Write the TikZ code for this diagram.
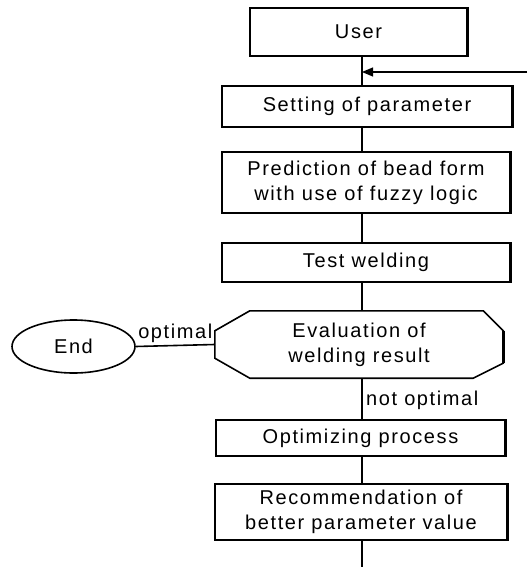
\documentclass[tikz,border=0pt]{standalone}
\usepackage{fontspec}
\setmainfont{Liberation Sans}[LetterSpace=8]
\usetikzlibrary{arrows.meta,shapes.geometric}

\tikzset{
  box/.style={draw, line width=1.6pt, align=center, inner sep=0pt},
  term/.style={ellipse, draw, line width=1.6pt, inner sep=0pt, minimum width=123pt, minimum height=53pt},
  flow/.style={line width=1.6pt},
}

\begin{document}
\begin{tikzpicture}[x=1pt,y=-1pt,font=\fontsize{20}{25}\selectfont]
\useasboundingbox (0,0) rectangle (527,567);
\coordinate (spine) at (362,0);
\coordinate (feed) at (527,72);
\coordinate (out) at (362,567);

\node[box, minimum width=217pt, minimum height=48pt] (user) at (358.5,32) {User};
\node[box, minimum width=290pt, minimum height=41pt] (setting) at (367,106.5) {Setting of parameter};
\node[box, minimum width=288pt, minimum height=61pt] (predict) at (366,182.5) {Prediction of bead form\\with use of fuzzy logic};
\node[box, minimum width=288pt, minimum height=39pt] (test) at (366,262.5) {Test welding};
\node[align=center, inner sep=0pt, minimum width=288pt, minimum height=67pt] (eval) at (359,344.5) {Evaluation of\\welding result};
\node[term] (end) at (73.5,346.5) {End};
\node[box, minimum width=289pt, minimum height=36pt] (opt) at (360.5,438) {Optimizing process};
\node[box, minimum width=292pt, minimum height=56pt] (rec) at (361,512) {Recommendation of\\better parameter value};

\draw[flow] ([xshift=35pt]eval.north west) -- ([xshift=-20pt]eval.north east)
  -- ([yshift=-20pt]eval.north east) -- ([yshift=15pt]eval.south east)
  -- ([xshift=-30pt]eval.south east) -- ([xshift=35pt]eval.south west)
  -- ([yshift=20pt]eval.south west) -- ([yshift=-20pt]eval.north west) -- cycle;
\draw[line width=2.8pt] ([yshift=-20pt]eval.north east) -- ([yshift=15pt]eval.south east);
\foreach \n in {user,setting,predict,test,opt,rec}
  \draw[line width=2.8pt] (\n.north east) -- (\n.south east);

\path[flow] (user.south -| spine) edge (setting.north -| spine)
  (setting.south -| spine) edge (predict.north -| spine)
  (predict.south -| spine) edge (test.north -| spine)
  (test.south -| spine) edge (eval.north -| spine)
  (eval.south -| spine) edge node[right, pos=0.55] {not optimal} (opt.north -| spine)
  (opt.south -| spine) edge (rec.north -| spine)
  (rec.south -| spine) edge (out)
  (eval.west) edge node[above, inner sep=2pt] {optimal} (end.east);
\draw[line width=1.2pt, -{Triangle[length=11pt,width=9pt]}] (feed) -- (feed -| spine);
\end{tikzpicture}
\end{document}
